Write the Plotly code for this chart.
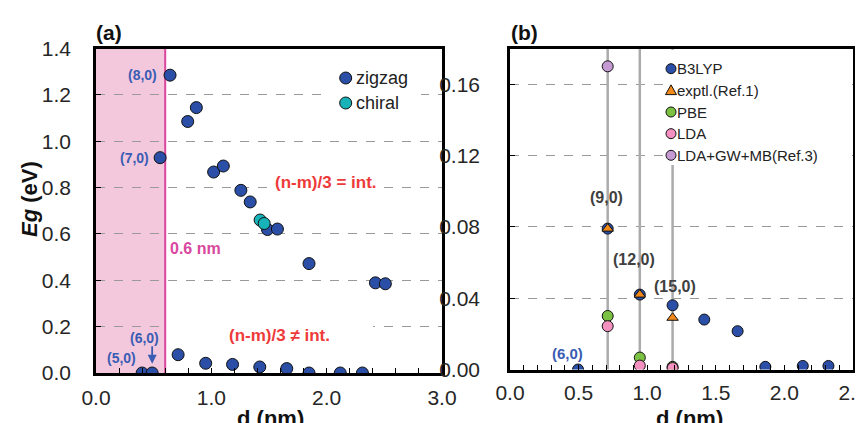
import plotly.graph_objects as go

W, H = 863, 423
FONT = "Liberation Sans, Arial, sans-serif"

# ---------------- data: panel (a) ----------------
zig_d  = [0.400, 0.487, 0.556, 0.642, 0.712, 0.795, 0.870, 0.951, 1.020, 1.104, 1.184, 1.256, 1.337,
          1.420, 1.487, 1.573, 1.654, 1.847, 1.847, 2.118, 2.310, 2.423, 2.509]
zig_eg = [0.000, 0.000, 0.929, 1.285, 0.079, 1.085, 1.145, 0.042, 0.867, 0.893, 0.037, 0.788, 0.738,
          0.026, 0.619, 0.621, 0.019, 0.472, 0.000, 0.000, 0.000, 0.389, 0.385]
chi_d  = [1.423, 1.458]
chi_eg = [0.660, 0.645]
threshold_d = 0.6
a_xticks = [0.0, 1.0, 2.0, 3.0]
a_yticks = [0.0, 0.2, 0.4, 0.6, 0.8, 1.0, 1.2, 1.4]
a_yrange = [0, 1.4]

# ---------------- data: panel (b) ----------------
b3_d  = [0.496, 0.712, 0.946, 1.185, 1.416, 1.659, 1.861, 2.134, 2.321]
b3_eg = [0.000, 0.079, 0.042, 0.036, 0.028, 0.0215, 0.0015, 0.002, 0.002]
ex_d  = [0.712, 0.946, 1.185]
ex_eg = [0.079, 0.042, 0.029]
pbe_d  = [0.712, 0.946, 1.185]
pbe_eg = [0.030, 0.0067, 0.0015]
lda_d  = [0.712, 0.946, 1.185]
lda_eg = [0.0243, 0.0022, 0.0008]
gw_d  = [0.712]
gw_eg = [0.170]
b_xticks = [0.0, 0.5, 1.0, 1.5, 2.0, 2.5]
b_yticks = [0.00, 0.04, 0.08, 0.12, 0.16]
b_yrange = [0, 0.18]
marked_tubes = ["(9,0)", "(12,0)", "(15,0)"]

# ---------------- styles ----------------
BLUE = "#2b4ea6"
OUT = dict(color="#111111", width=1)
st_zig = dict(color=BLUE, size=12, line=OUT)
st_chi = dict(color="#17b3b8", size=12, line=OUT)
st_b3 = dict(color=BLUE, size=11, line=OUT)
st_ex = dict(color="#f28a1a", size=10, symbol="triangle-up", line=OUT)
st_pbe = dict(color="#7cc242", size=11, line=OUT)
st_lda = dict(color="#f591c0", size=11, line=OUT)
st_gw = dict(color="#c59ad2", size=11, line=OUT)

fig = go.Figure()
# threshold line (a)
fig.add_trace(go.Scatter(x=[threshold_d, threshold_d], y=a_yrange, mode="lines",
                         line=dict(color="#d9479e", width=2), hoverinfo="skip",
                         xaxis="x", yaxis="y"))
fig.add_trace(go.Scatter(x=zig_d, y=zig_eg, mode="markers", marker=st_zig, name="zigzag",
                         xaxis="x", yaxis="y"))
fig.add_trace(go.Scatter(x=chi_d, y=chi_eg, mode="markers", marker=st_chi, name="chiral",
                         xaxis="x", yaxis="y"))
# vertical guides (b)
for d in ex_d:
    fig.add_trace(go.Scatter(x=[d, d], y=b_yrange, mode="lines",
                             line=dict(color="#ababab", width=2.5), hoverinfo="skip",
                             xaxis="x2", yaxis="y2"))
for xs, ys, st, nm in [(b3_d, b3_eg, st_b3, "B3LYP"), (ex_d, ex_eg, st_ex, "exptl.(Ref.1)"),
                       (pbe_d, pbe_eg, st_pbe, "PBE"), (lda_d, lda_eg, st_lda, "LDA"),
                       (gw_d, gw_eg, st_gw, "LDA+GW+MB(Ref.3)")]:
    fig.add_trace(go.Scatter(x=xs, y=ys, mode="markers", marker=st, name=nm,
                             xaxis="x2", yaxis="y2"))

def px(x):
    return x / W

def py(y):
    return 1 - y / H

axis_common = dict(showline=True, linewidth=2.5, linecolor="black", mirror=True,
                   ticks="inside", ticklen=5, tickwidth=1.2, tickcolor="black", automargin=False,
                   tickfont=dict(family=FONT, size=21, color="#262626"), zeroline=False)

fig.update_layout(
    width=W, height=H, autosize=False,
    margin=dict(l=0, r=0, t=0, b=0, pad=0),
    paper_bgcolor="white", plot_bgcolor="white",
    showlegend=False,
    font=dict(family=FONT),
    xaxis=dict(domain=[px(88), px(434)], range=[0, 3.0], tickvals=a_xticks, tickformat=".1f",
               showgrid=False, anchor="y", ticklabelstandoff=4,
               minor=dict(dtick=0.2, ticks="inside", ticklen=5, tickcolor="black", showgrid=False),
               **axis_common),
    yaxis=dict(domain=[py(365), py(40.5)], range=a_yrange, tickvals=a_yticks, tickformat=".1f",
               showgrid=True, gridcolor="#9a9a9a", griddash="dash", gridwidth=1, anchor="x",
               ticklabelstandoff=18, **axis_common),
    xaxis2=dict(domain=[px(502), px(845)], range=[0, 2.5], tickvals=b_xticks, tickformat=".1f",
                showgrid=False, anchor="y2", ticklabelstandoff=3,
                minor=dict(dtick=0.1, ticks="inside", ticklen=5, tickcolor="black", showgrid=False),
                **axis_common),
    yaxis2=dict(domain=[py(361.5), py(40.5)], range=b_yrange, tickvals=b_yticks, tickformat=".2f",
                showgrid=True, gridcolor="#9a9a9a", griddash="dash", gridwidth=1, anchor="x2",
                ticklabelstandoff=23, **axis_common),
)

shapes = []
# shaded region d < 0.6 nm
shapes.append(dict(type="rect", xref="x", yref="y domain", x0=0, x1=threshold_d, y0=0, y1=1,
                   fillcolor="#f3c8dd", line=dict(width=0), layer="below"))
# gap in the 0.2 gridline behind the label
shapes.append(dict(type="rect", xref="paper", yref="paper", x0=px(159), x1=px(365), y0=py(322), y1=py(314),
                   fillcolor="white", line=dict(width=0), layer="above"))

# ---- custom legends ----
def circle(cx, cy, r, st):
    return dict(type="circle", xref="paper", yref="paper", xsizemode="pixel", ysizemode="pixel",
                xanchor=px(cx), yanchor=py(cy), x0=-r, x1=r, y0=-r, y1=r,
                fillcolor=st["color"], line=dict(color="#111111", width=1), layer="above")

def triangle(cx, cy, r, st):
    return dict(type="path", xref="paper", yref="paper", xsizemode="pixel", ysizemode="pixel",
                xanchor=px(cx), yanchor=py(cy),
                path=f"M {-r*1.1},{-r*0.85} L {r*1.1},{-r*0.85} L 0,{r*1.1} Z",
                fillcolor=st["color"], line=dict(color="#111111", width=1), layer="above")

annotations = []
# legend (a)
shapes.append(dict(type="rect", xref="paper", yref="paper", x0=px(317), x1=px(413), y0=py(108), y1=py(56),
                   fillcolor="white", line=dict(width=0), layer="above"))
for i, (nm, st) in enumerate([("zigzag", st_zig), ("chiral", st_chi)]):
    cy = 70 + 25 * i
    shapes.append(circle(337.7, cy, 6, st))
    annotations.append(dict(xref="paper", yref="paper", x=px(346), y=py(cy), text=nm, showarrow=False,
                            xanchor="left", yanchor="middle", font=dict(size=18, color="#222222")))
# legend (b)
shapes.append(dict(type="rect", xref="paper", yref="paper", x0=px(655), x1=px(836), y0=py(157), y1=py(42),
                   fillcolor="white", line=dict(width=0), layer="above"))
for i, (nm, st) in enumerate([("B3LYP", st_b3), ("exptl.(Ref.1)", st_ex), ("PBE", st_pbe),
                               ("LDA", st_lda), ("LDA+GW+MB(Ref.3)", st_gw)]):
    cy = 60.7 + 21.65 * i
    if st.get("symbol") == "triangle-up":
        shapes.append(triangle(663, cy, 5, st))
    else:
        shapes.append(circle(663, cy, 5, st))
    annotations.append(dict(xref="paper", yref="paper", x=px(667), y=py(cy), text=nm, showarrow=False,
                            xanchor="left", yanchor="middle", font=dict(size=15, color="#222222")))

# ---- text labels ----
ABLUE = "#3a5cb3"
RED = "#ee3a3a"
def ann(x, y, text, ref="", **kw):
    d = dict(xref="x" + ref, yref="y" + ref, x=x, y=y, text=text, showarrow=False)
    d.update(kw)
    return d

annotations += [
    ann(zig_d[3], zig_eg[3], "<b>(8,0)</b>", xanchor="right", xshift=-11,
        font=dict(size=14, color=ABLUE)),
    ann(zig_d[2], zig_eg[2], "<b>(7,0)</b>", xanchor="right", xshift=-9,
        font=dict(size=14, color=ABLUE)),
    ann(zig_d[1], 0.151, "<b>(6,0)</b>", xshift=-8, font=dict(size=14, color=ABLUE)),
    ann(zig_d[0], 0.065, "<b>(5,0)</b>", xshift=-21, font=dict(size=14, color=ABLUE)),
    dict(xref="x", yref="y", x=zig_d[1], y=0.04, ax=0, ay=-19, text="", showarrow=True,
         arrowhead=2, arrowsize=1, arrowwidth=1.8, arrowcolor=ABLUE, axref="pixel", ayref="pixel"),
    ann(threshold_d, 0.537, "<b>0.6 nm</b>", xanchor="left", xshift=3,
        font=dict(size=16, color="#d9479e")),
    ann(1.994, 0.821, "<b>(n-m)/3 = int.</b>", font=dict(size=17, color=RED),
        bgcolor="white", borderpad=3),
    ann(1.587, 0.163, "<b>(n-m)/3 ≠ int.</b>", font=dict(size=17, color=RED)),
    ann(0.70, 0.0967, "<b>" + marked_tubes[0] + "</b>", ref="2", font=dict(size=16, color="#404040")),
    ann(0.907, 0.0615, "<b>" + marked_tubes[1] + "</b>", ref="2", font=dict(size=16, color="#404040")),
    ann(1.199, 0.0468, "<b>" + marked_tubes[2] + "</b>", ref="2", font=dict(size=16, color="#404040")),
    ann(0.416, 0.0092, "<b>(6,0)</b>", ref="2", font=dict(size=15, color=ABLUE)),
    # panel tags
    dict(xref="paper", yref="paper", x=px(86), y=py(25), text="<b>(a)</b>", showarrow=False,
         xanchor="left", yanchor="middle", font=dict(size=21, color="#111111")),
    dict(xref="paper", yref="paper", x=px(501), y=py(25), text="<b>(b)</b>", showarrow=False,
         xanchor="left", yanchor="middle", font=dict(size=21, color="#111111")),
    # axis titles
    dict(xref="paper", yref="paper", x=px(21), y=py(191), text="<b><i>Eg</i> (eV)</b>", showarrow=False,
         textangle=-90, xanchor="center", yanchor="middle", font=dict(size=22, color="#111111")),
    dict(xref="paper", yref="paper", x=px(262), y=py(410), text="<b>d (nm)</b>", showarrow=False,
         xanchor="center", yanchor="middle", font=dict(size=22, color="#111111")),
    dict(xref="paper", yref="paper", x=px(681), y=py(410), text="<b>d (nm)</b>", showarrow=False,
         xanchor="center", yanchor="middle", font=dict(size=22, color="#111111")),
]

fig.update_layout(shapes=shapes, annotations=annotations)
fig.write_html("out.html")
